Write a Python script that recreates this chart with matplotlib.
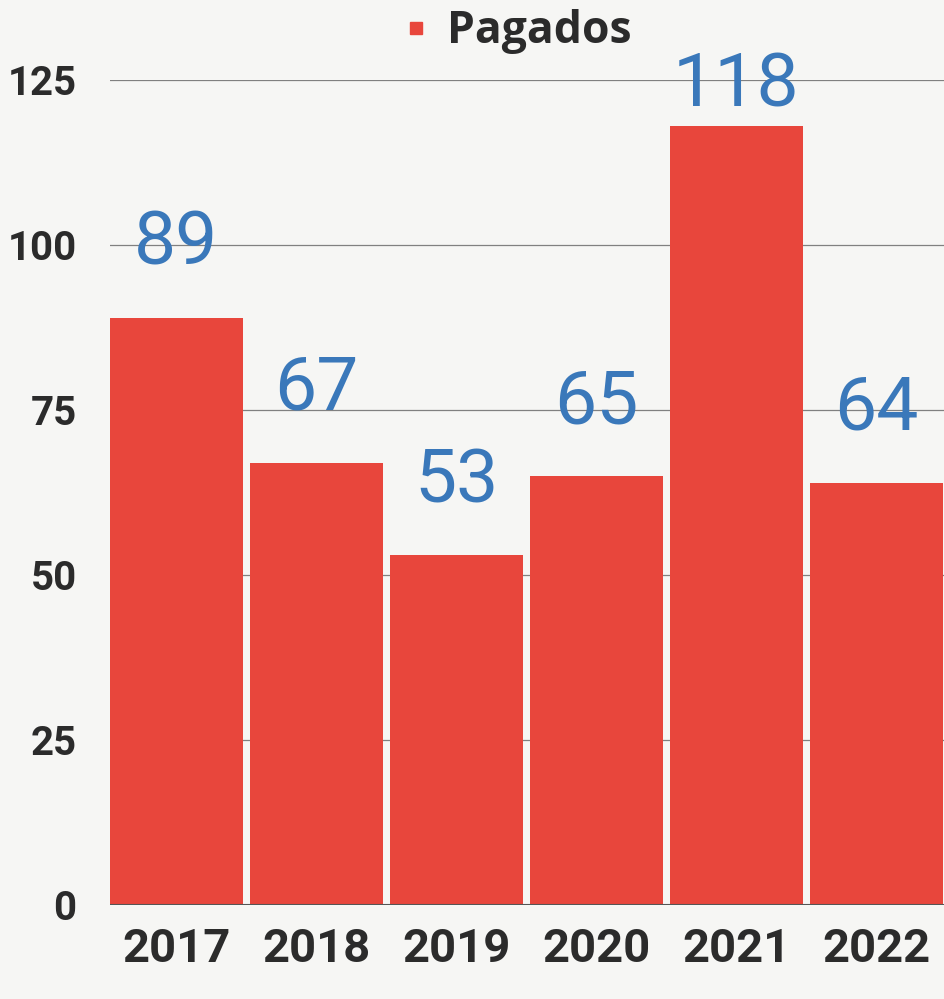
import numpy as np
import matplotlib.pyplot as plt
from matplotlib.lines import Line2D

# Data
years = ['2017', '2018', '2019', '2020', '2021', '2022']
pagados = [89, 67, 53, 65, 118, 64]
yticks = [0, 25, 50, 75, 100, 125]

bar_color = '#e8463c'
label_color = '#3a78ba'
text_color = '#2b2b2b'
bg = '#f6f6f4'

plt.rcParams['font.family'] = ['Roboto', 'DejaVu Sans']

fig = plt.figure(figsize=(9.45, 9.99), dpi=100, facecolor=bg)
ax = fig.add_axes([110 / 945, 94 / 999, 835 / 945, 825 / 999])
ax.set_facecolor(bg)

x = np.arange(len(years))
ax.bar(x, pagados, width=0.95, color=bar_color, zorder=2)

# value labels above bars (the tallest one is squeezed under the top line)
for xi, v in zip(x, pagados):
    ax.text(xi, min(v + 8, 121), str(v), ha='center', va='baseline',
            color=label_color, fontsize=54, fontweight='normal', zorder=3)

ax.set_xlim(-0.475, 5.49)
ax.set_ylim(0, 125)
ax.set_yticks(yticks)
ax.set_xticks(x)
ax.set_xticklabels(years)
ax.tick_params(axis='both', length=0, colors=text_color)
ax.tick_params(axis='y', labelsize=29, pad=24)
ax.tick_params(axis='x', labelsize=34, pad=16)
for lab in ax.get_xticklabels() + ax.get_yticklabels():
    lab.set_fontweight('bold')

ax.grid(axis='y', color='#808080', linewidth=0.9, zorder=0)
ax.axhline(0, color='#555555', linewidth=1.5, zorder=3)
for s in ax.spines.values():
    s.set_visible(False)

# legend
handle = Line2D([], [], marker='s', linestyle='none', markersize=8, color=bar_color)
leg = fig.legend([handle], ['Pagados'], loc='center', bbox_to_anchor=(0.545, 0.968),
                 frameon=False, handletextpad=0.3, handlelength=0.8,
                 prop={'family': ['Open Sans', 'DejaVu Sans'], 'weight': 'bold', 'size': 32})
for t in leg.get_texts():
    t.set_color(text_color)

fig.savefig('out.png', dpi=100, facecolor=bg)
